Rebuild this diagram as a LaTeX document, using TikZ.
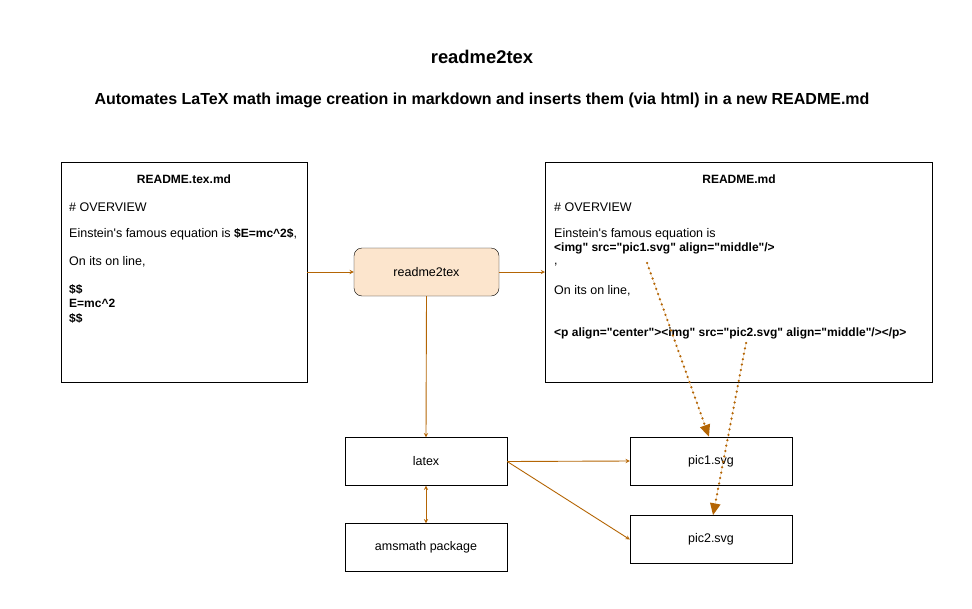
\documentclass[tikz,border=0pt]{standalone}
\usepackage{fontspec}
\setmainfont{Liberation Sans}[Ligatures=TeXOff]
\usetikzlibrary{arrows.meta,positioning}
\tikzset{>=stealth}
\colorlet{penColor}{black}
\definecolor{linkColor}{HTML}{B46504}
\definecolor{toolFill}{HTML}{FCE5CD}
\tikzset{
  filebox/.style={draw=penColor,anchor=north west,inner sep=0pt},
  plainbox/.style={draw=penColor,minimum width=162pt,minimum height=48pt,inner sep=0pt},
  toolbox/.style={draw=penColor,fill=toolFill,rounded corners=8pt,minimum width=145pt,minimum height=48pt,inner sep=0pt},
  txt/.style={anchor=west,inner sep=0pt,font=\fontsize{12.5}{15}\selectfont},
  btxt/.style={txt,font=\fontsize{12}{14.5}\selectfont\bfseries},
  flow/.style={->,draw=linkColor,line width=0.9pt},
  ref/.style={-{Triangle[length=12pt,width=10pt]},draw=linkColor,fill=linkColor,line width=2.5pt,
    line cap=round,dash pattern=on 0pt off 5.5pt}
}

\begin{document}
\begin{tikzpicture}[x=1pt,y=-1pt]
    \useasboundingbox (0,0) rectangle (972,608);

    \node[font=\fontsize{18.4}{22}\selectfont\bfseries] (title) at (482,57) {readme2tex};
    \node[font=\fontsize{16}{19}\selectfont\bfseries] (subtitle) at (482,100)
      {Automates LaTeX math image creation in markdown and inserts them (via html) in a new README.md};

    % source file
    \node[filebox,minimum width=246pt,minimum height=220pt] (src) at (61,162) {};
    \node[btxt,anchor=center] (srctitle) at (184,179) {README.tex.md};
    \node[txt] (srcA) at (69,207) {\# OVERVIEW};
    \node[txt] (srcB) at (69,234) {Einstein's famous equation is \textbf{\fontsize{12}{14}\selectfont\$E=mc\^{}2\$},};
    \node[txt] (srcC) at (69,262) {On its on line,};
    \node[btxt,anchor=north west,align=left] (srcD) at (69,284) {\$\$\\E=mc\^{}2\\\$\$};

    % generated file
    \node[filebox,minimum width=387pt,minimum height=220pt] (out) at (545,162) {};
    \node[btxt,anchor=center] (outtitle) at (739,179) {README.md};
    \node[txt] (outA) at (554,207) {\# OVERVIEW};
    \node[txt] (outB) at (554,234) {Einstein's famous equation is};
    \node[btxt] (outC) at (554,248) {<img" src="pic1.svg" align="middle"/>};
    \node[txt] (outD) at (554,265) {,};
    \node[txt] (outE) at (554,291) {On its on line,};
    \node[btxt] (outF) at (554,333) {<p align="center"><img" src="pic2.svg" align="middle"/></p>};

    % tools and results
    \node[toolbox,font=\fontsize{12.5}{15}\selectfont] (tool) at (426.5,272) {readme2tex};
    \node[plainbox,font=\fontsize{12.5}{15}\selectfont] (latex) at (426,461.5) {latex};
    \node[plainbox,font=\fontsize{12.5}{15}\selectfont] (ams) at (426,547.5) {amsmath package};
    \node[plainbox,font=\fontsize{12.5}{15}\selectfont] (pica) at (711,461) {pic1.svg};
    \node[plainbox,font=\fontsize{12.5}{15}\selectfont] (picb) at (711,539.5) {pic2.svg};

    \draw[flow] (src.east |- tool.west) -- (tool.west);
    \draw[flow] (tool.east) -- (tool.east -| out.west);
    \draw[flow] (tool.south) -- (latex.north);
    \draw[flow,<->] (latex.south) -- (ams.north);
    \draw[flow] (latex.east) -- (pica.west);
    \draw[flow] (latex.east) -- (picb.west);

    \coordinate (refa) at (647,263);
    \coordinate (refb) at (746,343);
    \draw[ref] (refa) -- (pica.north -| 709,0);
    \draw[ref] (refb) -- (picb.north -| 713,0);

  \end{tikzpicture}
\end{document}
